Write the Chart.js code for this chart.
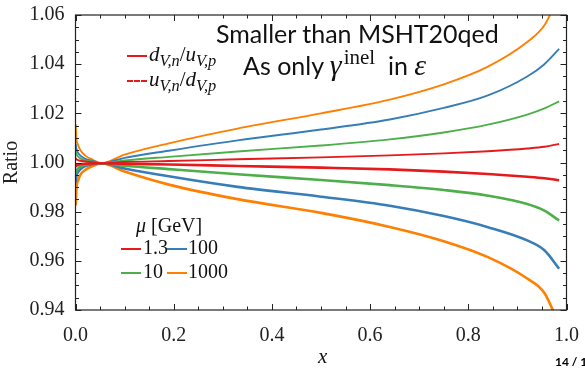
<!DOCTYPE html>
<html>
<head>
<meta charset="utf-8">
<script src="https://cdn.jsdelivr.net/npm/chart.js@4/dist/chart.umd.min.js"></script>
<style>
  html, body { margin: 0; padding: 0; background: #fff; overflow: hidden; }
  #wrap { position: relative; width: 585px; height: 368px; }
  canvas { position: absolute; left: 0; top: 0; }
  .lbl { position: absolute; white-space: nowrap; color: #111; }
  .serif { font-family: "Liberation Serif", serif; }
  .sans { font-family: "Lato", "DejaVu Sans", sans-serif; }
  .key { position: absolute; height: 0; }
  sub { font-size: 78%; line-height: 0; vertical-align: -0.3em; }
</style>
</head>
<body>
<div id="wrap">
  <canvas id="ratio" width="585" height="368"></canvas>

  <div class="lbl sans" style="left:216px; top:18px; font-size:25px;">Smaller than MSHT20qed</div>
  <div class="lbl sans" style="left:243px; top:48px; font-size:25px;">As only <i class="serif" style="font-size:30px;">γ</i><span class="serif" style="font-size:21px; position:relative; top:-11px; margin-left:2px;">inel</span>&nbsp; in <i class="serif" style="font-size:30px;">ε</i></div>

  <div class="key" style="left:127px; top:55px; width:20px; border-top:2px solid #e41a1c;"></div>
  <div class="lbl serif" style="left:149px; top:42px; font-size:21px;"><i>d</i><sub><i>V,n</i></sub>/<i>u</i><sub><i>V,p</i></sub></div>
  <div class="key" style="left:127px; top:80px; width:20px; border-top:2px dashed #e41a1c;"></div>
  <div class="lbl serif" style="left:149px; top:67px; font-size:21px;"><i>u</i><sub><i>V,n</i></sub>/<i>d</i><sub><i>V,p</i></sub></div>

  <div class="lbl serif" style="left:136px; top:214px; font-size:20px;"><i>μ</i> [GeV]</div>
  <div class="key" style="left:121px; top:248px; width:20px; border-top:2px solid #e41a1c;"></div>
  <div class="lbl serif" style="left:143px; top:236px; font-size:20px;">1.3</div>
  <div class="key" style="left:167px; top:248px; width:20px; border-top:2px solid #377eb8;"></div>
  <div class="lbl serif" style="left:188px; top:236px; font-size:20px;">100</div>
  <div class="key" style="left:121px; top:272px; width:20px; border-top:2px solid #4daf4a;"></div>
  <div class="lbl serif" style="left:143px; top:260px; font-size:20px;">10</div>
  <div class="key" style="left:167px; top:272px; width:20px; border-top:2px solid #ff7f00;"></div>
  <div class="lbl serif" style="left:188px; top:260px; font-size:20px;">1000</div>

  <div class="lbl serif" style="left:318px; top:344px; font-size:21px;"><i>x</i></div>
  <div class="lbl sans" style="left:555px; top:354px; font-size:12px; font-weight:bold; color:#000;">14 / 15</div>
</div>

<script>
// momentum fraction grid
const xs = [0.0005, 0.002, 0.005, 0.01, 0.02, 0.035, 0.053, 0.1, 0.19, 0.33, 0.5, 0.64, 0.75, 0.84, 0.92, 0.955, 0.985];

const scales = ['1.3', '10', '100', '1000'];
const colors = ['#e41a1c', '#4daf4a', '#377eb8', '#ff7f00'];

// d_{V,n}/u_{V,p}
const dnOverUp13   = [1.0018, 1.0013, 1.0010, 1.0007, 1.0004, 1.0001, 0.9997, 1.0002, 1.0006, 1.0013, 1.0021, 1.0029, 1.0037, 1.0046, 1.0057, 1.0064, 1.0076];
const dnOverUp10   = [1.0045, 1.0034, 1.0025, 1.0017, 1.0009, 1.0003, 0.9997, 1.0008, 1.0023, 1.0045, 1.0069, 1.0094, 1.0122, 1.0154, 1.0195, 1.0220, 1.0249];
const dnOverUp100  = [1.0075, 1.0055, 1.0040, 1.0028, 1.0015, 1.0006, 0.9997, 1.0019, 1.0048, 1.0090, 1.0134, 1.0175, 1.0222, 1.0273, 1.0350, 1.0400, 1.0462];
const dnOverUp1000 = [1.0155, 1.0095, 1.0072, 1.0050, 1.0028, 1.0011, 0.9997, 1.0032, 1.0078, 1.0138, 1.0200, 1.0256, 1.0318, 1.0390, 1.0490, 1.0558, 1.0680];

// u_{V,n}/d_{V,p}
const unOverDp13   = [0.9982, 0.9987, 0.9990, 0.9993, 0.9995, 0.9996, 0.9997, 0.9995, 0.9992, 0.9986, 0.9979, 0.9972, 0.9963, 0.9953, 0.9942, 0.9936, 0.9928];
const unOverDp10   = [0.9955, 0.9966, 0.9975, 0.9983, 0.9991, 0.9996, 0.9997, 0.9987, 0.9973, 0.9952, 0.9929, 0.9908, 0.9888, 0.9865, 0.9831, 0.9804, 0.9764];
const unOverDp100  = [0.9920, 0.9945, 0.9960, 0.9972, 0.9985, 0.9993, 0.9997, 0.9976, 0.9944, 0.9901, 0.9861, 0.9824, 0.9782, 0.9737, 0.9683, 0.9643, 0.9568];
const unOverDp1000 = [0.9825, 0.9895, 0.9925, 0.9950, 0.9970, 0.9986, 0.9997, 0.9963, 0.9910, 0.9851, 0.9795, 0.9738, 0.9680, 0.9615, 0.9528, 0.9469, 0.9340];

const upper = [dnOverUp13, dnOverUp10, dnOverUp100, dnOverUp1000];
const lower = [unOverDp13, unOverDp10, unOverDp100, unOverDp1000];

function pts(ys) {
    return xs.map((x, i) => ({ x: x, y: ys[i] }));
}

const datasets = [];
scales.forEach((mu, i) => {
    // dashed curve: coloured band with a light dash running through it
    datasets.push({
        label: 'u/d ' + mu, data: pts(lower[i]),
        borderColor: colors[i], borderWidth: 2.6
    });
    datasets.push({
        label: 'u/d dash ' + mu, data: pts(lower[i]),
        borderColor: 'rgba(255,255,255,0.7)', borderWidth: 0.8, borderDash: [3, 3]
    });
    datasets.push({
        label: 'd/u ' + mu, data: pts(upper[i]),
        borderColor: colors[i], borderWidth: 1.9
    });
});

// frame with inward major/minor ticks on all four sides
const frameTicks = {
    id: 'frameTicks',
    afterDraw(chart) {
        const { ctx, chartArea: a, scales: { x, y } } = chart;
        ctx.save();
        ctx.strokeStyle = '#222';
        ctx.lineWidth = 1.2;
        ctx.strokeRect(a.left, a.top, a.right - a.left, a.bottom - a.top);
        ctx.lineWidth = 1;
        for (let i = 0; i <= 20; i++) {
            const px = Math.round(x.getPixelForValue(i * 0.05)) + 0.5;
            const len = i % 4 === 0 ? 6 : 3.5;
            ctx.beginPath();
            ctx.moveTo(px, a.bottom); ctx.lineTo(px, a.bottom - len);
            ctx.moveTo(px, a.top); ctx.lineTo(px, a.top + len);
            ctx.stroke();
        }
        for (let i = 0; i <= 24; i++) {
            const py = Math.round(y.getPixelForValue(0.94 + i * 0.005)) + 0.5;
            const len = i % 4 === 0 ? 6 : 3.5;
            ctx.beginPath();
            ctx.moveTo(a.left, py); ctx.lineTo(a.left + len, py);
            ctx.moveTo(a.right, py); ctx.lineTo(a.right - len, py);
            ctx.stroke();
        }
        ctx.restore();
    }
};

const tickFont = { family: "'Liberation Serif', serif", size: 20 };

new Chart(document.getElementById('ratio').getContext('2d'), {
    type: 'line',
    data: { datasets: datasets },
    options: {
        responsive: false,
        animation: false,
        layout: { padding: { top: 13, right: 15, left: 0, bottom: 0 } },
        elements: {
            point: { radius: 0 },
            line: { cubicInterpolationMode: 'monotone', fill: false }
        },
        plugins: { legend: { display: false }, tooltip: { enabled: false } },
        scales: {
            x: {
                type: 'linear', min: 0, max: 1,
                grid: { display: false }, border: { display: false },
                ticks: {
                    stepSize: 0.2, padding: 6, color: '#222', font: tickFont,
                    callback: v => v.toFixed(1)
                },
                afterFit: s => { s.height = 58; }
            },
            y: {
                min: 0.94, max: 1.06,
                grid: { display: false }, border: { display: false },
                ticks: {
                    stepSize: 0.02, padding: 3, color: '#222', font: tickFont,
                    callback: v => v.toFixed(2)
                },
                title: {
                    display: true, text: 'Ratio', color: '#222', font: tickFont,
                    padding: { top: 0, bottom: 0 }
                },
                afterFit: s => { s.width = 75.5; }
            }
        }
    },
    plugins: [frameTicks]
});
</script>
</body>
</html>
